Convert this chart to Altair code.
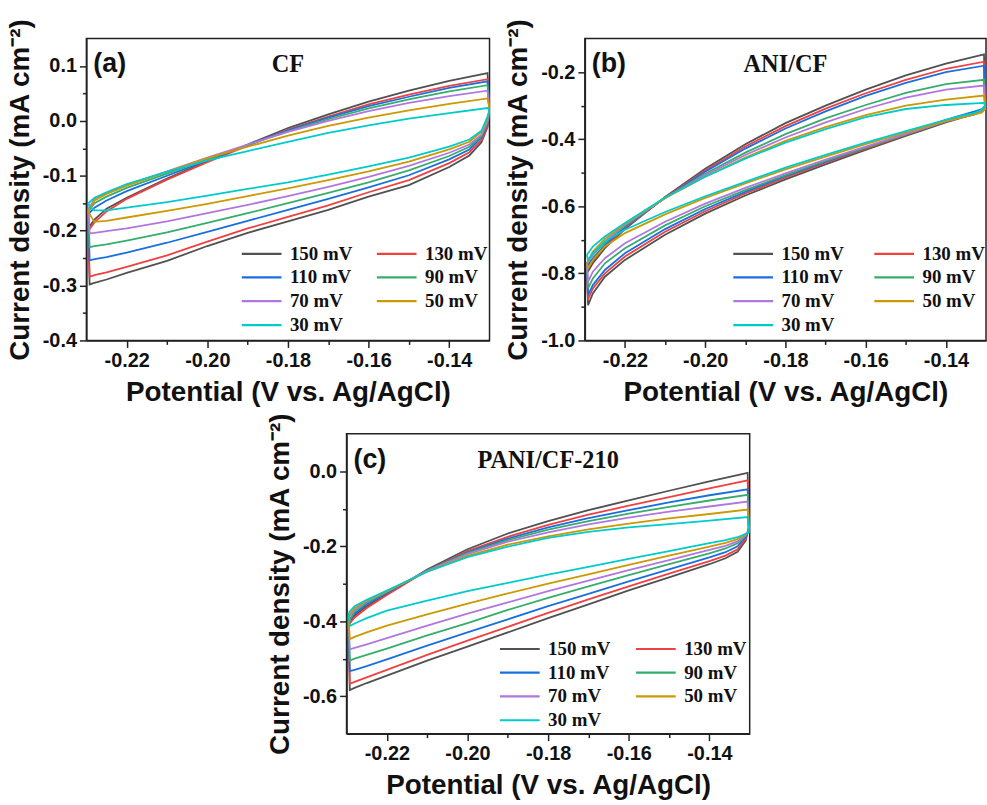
import altair as alt
import pandas as pd

RATES = ["150 mV", "130 mV", "110 mV", "90 mV", "70 mV", "50 mV", "30 mV"]
COLORS = ["#515151", "#F14040", "#1A6FDF", "#37AD6B", "#B177DE", "#CC9900", "#00CBCC"]

# ---------------- panel (a) CF ----------------
a_up_x = [-0.2295, -0.228, -0.225, -0.22, -0.21, -0.20, -0.19, -0.18, -0.17, -0.16, -0.15, -0.14, -0.1305]
a_dn_x = [-0.1300, -0.1305, -0.132, -0.135, -0.14, -0.15, -0.16, -0.17, -0.18, -0.19, -0.20, -0.21, -0.22, -0.225, -0.228, -0.2292]
a_up_150 = [-0.195, -0.180, -0.160, -0.140, -0.105, -0.073, -0.043, -0.013, 0.012, 0.035, 0.055, 0.073, 0.087]
a_up_130 = [-0.200, -0.185, -0.165, -0.142, -0.107, -0.075, -0.045, -0.016, 0.008, 0.030, 0.048, 0.064, 0.076]
a_up_110 = [-0.170, -0.158, -0.145, -0.128, -0.100, -0.072, -0.044, -0.017, 0.006, 0.027, 0.044, 0.060, 0.072]
a_up_90 = [-0.165, -0.150, -0.138, -0.122, -0.096, -0.070, -0.044, -0.019, 0.003, 0.023, 0.039, 0.054, 0.065]
a_up_70 = [-0.160, -0.143, -0.132, -0.117, -0.092, -0.067, -0.043, -0.020, 0.000, 0.018, 0.033, 0.045, 0.055]
a_up_50 = [-0.165, -0.145, -0.133, -0.118, -0.093, -0.068, -0.047, -0.027, -0.009, 0.006, 0.019, 0.031, 0.041]
a_up_30 = [-0.150, -0.140, -0.130, -0.115, -0.093, -0.072, -0.055, -0.038, -0.022, -0.008, 0.004, 0.014, 0.0235]
a_dn_150 = [0.020, -0.011, -0.039, -0.063, -0.084, -0.117, -0.138, -0.162, -0.183, -0.204, -0.228, -0.255, -0.277, -0.289, -0.295, -0.298]
a_dn_130 = [0.020, -0.010, -0.035, -0.057, -0.077, -0.108, -0.130, -0.154, -0.175, -0.196, -0.220, -0.245, -0.266, -0.276, -0.281, -0.284]
a_dn_110 = [0.020, -0.005, -0.030, -0.052, -0.070, -0.099, -0.121, -0.142, -0.162, -0.182, -0.202, -0.222, -0.240, -0.248, -0.252, -0.254]
a_dn_90 = [0.020, -0.003, -0.028, -0.047, -0.064, -0.090, -0.112, -0.131, -0.150, -0.168, -0.186, -0.203, -0.218, -0.225, -0.228, -0.230]
a_dn_70 = [0.020, 0.000, -0.025, -0.043, -0.058, -0.082, -0.102, -0.120, -0.137, -0.153, -0.168, -0.183, -0.196, -0.201, -0.204, -0.205]
a_dn_50 = [0.020, 0.005, -0.020, -0.038, -0.052, -0.074, -0.092, -0.108, -0.123, -0.137, -0.151, -0.164, -0.176, -0.182, -0.184, -0.170]
a_dn_30 = [0.020, 0.008, -0.018, -0.034, -0.047, -0.067, -0.083, -0.098, -0.112, -0.124, -0.136, -0.148, -0.158, -0.163, -0.163, -0.157]

# ---------------- panel (b) ANI/CF ----------------
b_up_x = [-0.2295, -0.228, -0.225, -0.22, -0.21, -0.20, -0.19, -0.18, -0.17, -0.16, -0.15, -0.14, -0.1305]
b_dn_x = [-0.1302, -0.131, -0.133, -0.136, -0.14, -0.15, -0.16, -0.17, -0.18, -0.19, -0.20, -0.21, -0.22, -0.225, -0.228, -0.2292]
b_up_150 = [-0.800, -0.770, -0.725, -0.668, -0.572, -0.488, -0.415, -0.352, -0.300, -0.252, -0.210, -0.175, -0.147]
b_up_130 = [-0.790, -0.762, -0.720, -0.665, -0.574, -0.493, -0.422, -0.361, -0.309, -0.263, -0.223, -0.190, -0.169]
b_up_110 = [-0.780, -0.755, -0.715, -0.662, -0.575, -0.497, -0.428, -0.368, -0.317, -0.271, -0.232, -0.200, -0.181]
b_up_90 = [-0.770, -0.745, -0.708, -0.658, -0.575, -0.503, -0.440, -0.385, -0.338, -0.298, -0.262, -0.236, -0.223]
b_up_70 = [-0.770, -0.742, -0.704, -0.655, -0.575, -0.507, -0.447, -0.395, -0.350, -0.310, -0.276, -0.252, -0.240]
b_up_50 = [-0.770, -0.735, -0.697, -0.652, -0.576, -0.512, -0.455, -0.405, -0.364, -0.328, -0.300, -0.282, -0.270]
b_up_30 = [-0.745, -0.720, -0.690, -0.650, -0.574, -0.512, -0.458, -0.410, -0.370, -0.334, -0.310, -0.298, -0.292]
b_dn_150 = [-0.310, -0.318, -0.326, -0.336, -0.350, -0.390, -0.432, -0.475, -0.520, -0.568, -0.622, -0.685, -0.760, -0.810, -0.860, -0.895]
b_dn_130 = [-0.310, -0.318, -0.325, -0.334, -0.347, -0.387, -0.428, -0.470, -0.515, -0.562, -0.615, -0.676, -0.750, -0.800, -0.845, -0.878]
b_dn_110 = [-0.300, -0.310, -0.318, -0.328, -0.342, -0.383, -0.425, -0.467, -0.510, -0.557, -0.608, -0.668, -0.740, -0.790, -0.835, -0.865]
b_dn_90 = [-0.310, -0.318, -0.326, -0.335, -0.347, -0.386, -0.425, -0.465, -0.507, -0.552, -0.600, -0.657, -0.725, -0.770, -0.815, -0.845]
b_dn_70 = [-0.310, -0.318, -0.325, -0.334, -0.346, -0.384, -0.422, -0.461, -0.502, -0.545, -0.592, -0.646, -0.710, -0.755, -0.795, -0.825]
b_dn_50 = [-0.310, -0.320, -0.327, -0.335, -0.346, -0.380, -0.415, -0.452, -0.490, -0.532, -0.575, -0.624, -0.680, -0.720, -0.760, -0.785]
b_dn_30 = [-0.300, -0.312, -0.322, -0.330, -0.342, -0.376, -0.410, -0.447, -0.485, -0.527, -0.570, -0.617, -0.670, -0.705, -0.740, -0.760]

# ---------------- panel (c) PANI/CF-210 ----------------
c_up_x = [-0.2295, -0.228, -0.225, -0.22, -0.21, -0.20, -0.19, -0.18, -0.17, -0.16, -0.15, -0.14, -0.1305]
c_dn_x = [-0.1302, -0.131, -0.133, -0.136, -0.14, -0.15, -0.16, -0.17, -0.18, -0.19, -0.20, -0.21, -0.22, -0.225, -0.228, -0.2292]
c_up_150 = [-0.410, -0.385, -0.360, -0.328, -0.262, -0.208, -0.166, -0.133, -0.104, -0.078, -0.052, -0.027, -0.004]
c_up_130 = [-0.410, -0.390, -0.365, -0.330, -0.265, -0.213, -0.175, -0.143, -0.116, -0.092, -0.069, -0.046, -0.024]
c_up_110 = [-0.400, -0.380, -0.355, -0.325, -0.265, -0.216, -0.180, -0.150, -0.125, -0.104, -0.083, -0.064, -0.048]
c_up_90 = [-0.400, -0.375, -0.350, -0.322, -0.265, -0.218, -0.184, -0.156, -0.133, -0.113, -0.095, -0.078, -0.063]
c_up_70 = [-0.390, -0.370, -0.347, -0.320, -0.266, -0.221, -0.188, -0.163, -0.142, -0.124, -0.108, -0.094, -0.081]
c_up_50 = [-0.385, -0.365, -0.345, -0.320, -0.268, -0.226, -0.196, -0.174, -0.155, -0.140, -0.126, -0.114, -0.102]
c_up_30 = [-0.378, -0.360, -0.343, -0.318, -0.268, -0.229, -0.201, -0.178, -0.162, -0.150, -0.141, -0.132, -0.122]
c_dn_150 = [-0.150, -0.185, -0.215, -0.232, -0.248, -0.283, -0.318, -0.355, -0.392, -0.430, -0.468, -0.505, -0.545, -0.565, -0.578, -0.584]
c_dn_130 = [-0.150, -0.180, -0.208, -0.225, -0.240, -0.273, -0.307, -0.342, -0.378, -0.415, -0.452, -0.490, -0.530, -0.550, -0.562, -0.567]
c_dn_110 = [-0.155, -0.175, -0.200, -0.216, -0.230, -0.262, -0.294, -0.327, -0.360, -0.395, -0.430, -0.465, -0.502, -0.520, -0.530, -0.533]
c_dn_90 = [-0.158, -0.172, -0.192, -0.206, -0.219, -0.248, -0.277, -0.307, -0.338, -0.370, -0.405, -0.438, -0.473, -0.490, -0.500, -0.505]
c_dn_70 = [-0.160, -0.170, -0.187, -0.199, -0.210, -0.237, -0.264, -0.292, -0.320, -0.350, -0.380, -0.412, -0.445, -0.462, -0.471, -0.475]
c_dn_50 = [-0.162, -0.168, -0.181, -0.191, -0.201, -0.225, -0.250, -0.275, -0.300, -0.326, -0.353, -0.382, -0.412, -0.430, -0.442, -0.448]
c_dn_30 = [-0.164, -0.167, -0.176, -0.184, -0.192, -0.213, -0.234, -0.255, -0.276, -0.298, -0.320, -0.345, -0.372, -0.392, -0.406, -0.413]

X_TICKS = [-0.22, -0.21, -0.20, -0.19, -0.18, -0.17, -0.16, -0.15, -0.14]
A_Y_TICKS = [-0.4, -0.35, -0.3, -0.25, -0.2, -0.15, -0.1, -0.05, 0.0, 0.05, 0.1]
B_Y_TICKS = [-1.0, -0.9, -0.8, -0.7, -0.6, -0.5, -0.4, -0.3, -0.2]
C_Y_TICKS = [-0.6, -0.5, -0.4, -0.3, -0.2, -0.1, 0.0]

g = globals()


def build(prefix, up_x, dn_x):
    rows = []
    for r in RATES:
        k = r.split()[0]
        up = g[f"{prefix}_up_{k}"]
        dn = g[f"{prefix}_dn_{k}"]
        pts = list(zip(up_x, up)) + list(zip(dn_x, dn)) + [(up_x[0], up[0])]
        for i, (xv, yv) in enumerate(pts):
            rows.append({"rate": r, "x": xv, "y": yv, "i": i})
    return pd.DataFrame(rows)


SANS = "Liberation Sans"
SERIF = "Liberation Serif"
INK = "#222222"
MINUS = "\u2212"


def panel(df, ydom, yticks, ytest, yfmt, letter, name, w, h, lx, ly, colpad):
    x_minor = "abs(round(datum.value*100)) % 2 == 1"
    xaxis = alt.Axis(
        values=X_TICKS,
        title="Potential (V vs. Ag/AgCl)",
        labelExpr=f"{x_minor} ? '' : replace(format(datum.value, '.2f'), '{MINUS}', '-')",
        tickSize={"condition": {"test": x_minor, "value": 4}, "value": 7},
        labelOverlap=False,
    )
    yaxis = alt.Axis(
        values=yticks,
        title="Current density (mA cm\u207b\u00b2)",
        labelExpr=f"{ytest} ? '' : replace(format(datum.value, '{yfmt}'), '{MINUS}', '-')",
        tickSize={"condition": {"test": ytest, "value": 4}, "value": 7},
        labelOverlap=False,
    )
    lines = alt.Chart(df).mark_line(strokeWidth=1.8, clip=True).encode(
        x=alt.X("x:Q", scale=alt.Scale(domain=[-0.23, -0.13], nice=False, zero=False), axis=xaxis),
        y=alt.Y("y:Q", scale=alt.Scale(domain=ydom, nice=False, zero=False), axis=yaxis),
        color=alt.Color(
            "rate:N",
            scale=alt.Scale(domain=RATES, range=COLORS),
            sort=RATES,
            legend=alt.Legend(
                title=None, orient="none", legendX=lx, legendY=ly, columns=2, direction="horizontal",
                symbolType="M-4,0H4", symbolSize=100, symbolStrokeWidth=2.2,
                labelFont=SERIF, labelFontWeight="bold", labelFontSize=19, labelColor="#111",
                labelOffset=19, columnPadding=colpad, rowPadding=4, padding=0,
            ),
        ),
        order="i:Q",
    )
    let = alt.Chart(pd.DataFrame({"t": [letter]})).mark_text(
        font=SANS, fontWeight="bold", fontSize=27, align="left", baseline="middle", color="#111"
    ).encode(text="t:N", x=alt.value(7), y=alt.value(26))
    nm = alt.Chart(pd.DataFrame({"t": [name]})).mark_text(
        font=SERIF, fontWeight="bold", fontSize=24.5, align="center", baseline="middle", color="#111"
    ).encode(text="t:N", x=alt.value(w / 2), y=alt.value(27))
    return alt.layer(lines, let, nm).properties(width=w, height=h)


A = panel(build("a", a_up_x, a_dn_x), [-0.4, 0.15], A_Y_TICKS,
          "abs(round(datum.value*100)) % 10 == 5", ".1f", "(a)", "CF", 406, 304, 167, 207, 20)
B = panel(build("b", b_up_x, b_dn_x), [-1.0, -0.1], B_Y_TICKS,
          "abs(round(datum.value*10)) % 2 == 1", ".1f", "(b)", "ANI/CF", 404, 304, 160, 207, 26)
C = panel(build("c", c_up_x, c_dn_x), [-0.7, 0.1], C_Y_TICKS,
          "abs(round(datum.value*10)) % 2 == 1", ".1f", "(c)", "PANI/CF-210", 406, 302, 165, 207, 21)

# empty, invisible block that indents panel (c) under the top row
SPACER = alt.Chart(pd.DataFrame({"t": [0]})).mark_point(opacity=0).encode(
    x=alt.value(0), y=alt.value(0)
).properties(width=179, height=10, view=alt.ViewBackground(stroke="transparent"))

top = alt.hconcat(A, B, spacing=13).resolve_scale(color="independent").resolve_legend(color="independent")
bottom = alt.hconcat(SPACER, C, spacing=0).resolve_scale(color="independent").resolve_legend(color="independent")
chart = alt.vconcat(top, bottom, spacing=4).resolve_scale(
    color="independent").resolve_legend(color="independent").properties(
    padding={"left": 5, "top": 14, "right": 0, "bottom": 0},
    background="white",
).configure_axis(
    labelFont=SANS, labelFontSize=20, labelFontWeight="bold", labelColor="#111",
    titleFont=SANS, titleFontSize=28, titleFontWeight="bold", titleColor="#111",
    domainColor=INK, domainWidth=1.5, tickColor=INK, tickWidth=1.5, grid=False,
    labelPadding=3, titlePadding=8,
).configure_view(stroke=INK, strokeWidth=1.5)

chart.save("out.html", embed_options={"renderer": "svg", "actions": False})
